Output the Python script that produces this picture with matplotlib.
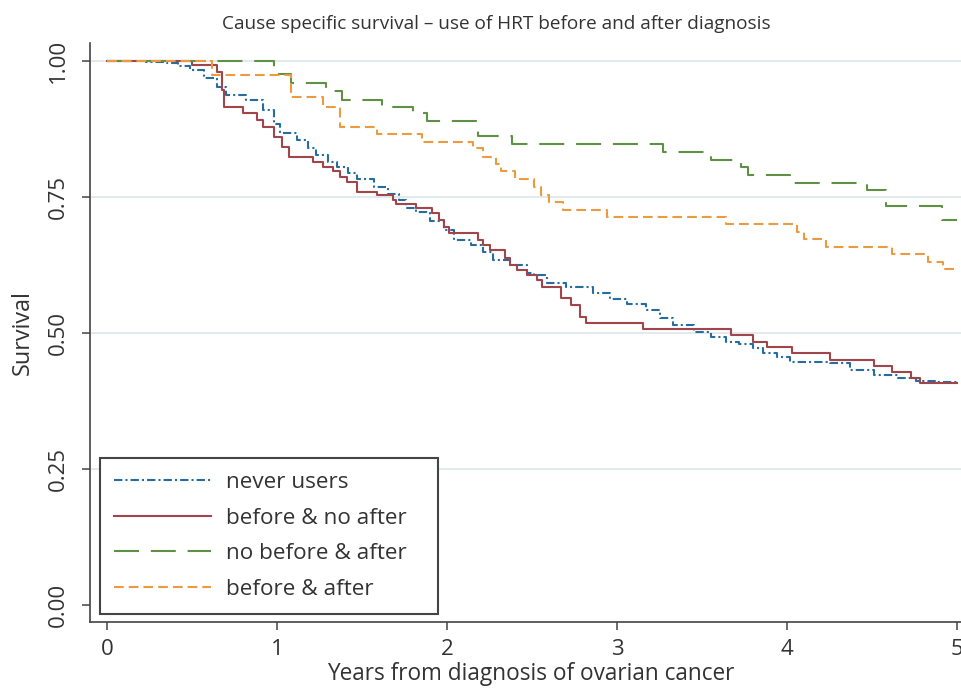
import matplotlib
matplotlib.use("Agg")
import matplotlib.pyplot as plt

plt.rcParams['font.family'] = ['Open Sans', 'DejaVu Sans']
plt.rcParams['lines.scale_dashes'] = False

title = "Cause specific survival – use of HRT before and after diagnosis"
xlabel = "Years from diagnosis of ovarian cancer"
ylabel = "Survival"
xticks = [0, 1, 2, 3, 4, 5]
yticks = [0.0, 0.25, 0.5, 0.75, 1.0]
ytick_labels = ["0.00", "0.25", "0.50", "0.75", "1.00"]
labels = ["never users", "before & no after", "no before & after", "before & after"]

never_t = [0, 0.23, 0.35, 0.42, 0.49, 0.57, 0.645, 0.70, 0.82, 0.92, 0.98, 1.02, 1.12, 1.18,
           1.23, 1.30, 1.35, 1.42, 1.47, 1.57, 1.65, 1.72, 1.76, 1.82, 1.90, 1.98, 2.04, 2.14,
           2.21, 2.27, 2.37, 2.47, 2.51, 2.59, 2.70, 2.86, 2.96, 3.06, 3.17, 3.25, 3.33, 3.45,
           3.55, 3.64, 3.72, 3.80, 3.86, 3.94, 4.02, 4.25, 4.37, 4.51, 4.65, 4.76, 4.88, 5.0]
never_s = [1.0, 0.998, 0.996, 0.99, 0.983, 0.969, 0.953, 0.9375, 0.928, 0.91, 0.885, 0.867, 0.855, 0.84,
           0.827, 0.815, 0.806, 0.795, 0.784, 0.769, 0.756, 0.744, 0.729, 0.723, 0.705, 0.689, 0.671, 0.662,
           0.649, 0.634, 0.625, 0.610, 0.607, 0.591, 0.584, 0.573, 0.563, 0.553, 0.542, 0.527, 0.515, 0.502,
           0.493, 0.484, 0.479, 0.472, 0.463, 0.455, 0.447, 0.444, 0.432, 0.423, 0.417, 0.412, 0.410, 0.408]

before_t = [0, 0.50, 0.645, 0.675, 0.69, 0.80, 0.88, 0.92, 0.98, 1.03, 1.07, 1.21, 1.27, 1.33,
            1.37, 1.41, 1.47, 1.59, 1.68, 1.70, 1.82, 1.91, 1.95, 1.98, 2.01, 2.18, 2.21, 2.25,
            2.34, 2.37, 2.41, 2.47, 2.53, 2.56, 2.67, 2.73, 2.78, 2.82, 3.15, 3.67, 3.80, 3.88,
            4.03, 4.25, 4.51, 4.62, 4.73, 4.78, 5.0]
before_s = [1.0, 0.993, 0.980, 0.947, 0.916, 0.904, 0.892, 0.879, 0.861, 0.842, 0.824, 0.815, 0.806, 0.797,
            0.787, 0.778, 0.760, 0.754, 0.744, 0.738, 0.729, 0.720, 0.708, 0.695, 0.683, 0.671, 0.662, 0.653,
            0.637, 0.625, 0.616, 0.607, 0.597, 0.585, 0.564, 0.551, 0.530, 0.518, 0.507, 0.496, 0.484, 0.474,
            0.463, 0.450, 0.439, 0.429, 0.418, 0.408, 0.408]

after_t = [0, 0.98, 1.08, 1.29, 1.38, 1.62, 1.80, 1.88, 2.18, 2.38, 3.27, 3.55, 3.73, 3.77,
           4.02, 4.47, 4.58, 4.91, 5.0]
after_s = [1.0, 0.977, 0.960, 0.944, 0.928, 0.916, 0.904, 0.89, 0.863, 0.847, 0.833, 0.818, 0.805, 0.79,
           0.776, 0.762, 0.733, 0.708, 0.708]

both_t = [0, 0.62, 1.08, 1.27, 1.37, 1.59, 1.85, 2.15, 2.21, 2.29, 2.32, 2.40, 2.51, 2.55,
          2.60, 2.68, 2.94, 3.64, 4.06, 4.10, 4.23, 4.62, 4.83, 4.92, 5.0]
both_s = [1.0, 0.975, 0.934, 0.916, 0.878, 0.865, 0.852, 0.84, 0.824, 0.811, 0.797, 0.783, 0.768, 0.754,
          0.740, 0.727, 0.714, 0.700, 0.686, 0.673, 0.659, 0.645, 0.631, 0.618, 0.618]

colors = ['#266c9e', '#a0454a', '#5e9045', '#eb9a40']
dashes = [(0, (6, 2.2, 1.5, 2.2)), '-', (0, (18, 8.5)), (0, (7, 3.6))]

W, H = 962, 688
fig = plt.figure(figsize=(W / 100, H / 100), dpi=100)
L, R, B, T = 90, 962, 622, 43
ax = fig.add_axes([L / W, 1 - B / H, (R - L) / W, (B - T) / H])

x0 = 107; xs = 170.0
y0 = 605; ys = 544.0
ax.set_xlim((L - x0) / xs, (R - x0) / xs)
ax.set_ylim((y0 - B) / ys, (y0 - T) / ys)

for yv in [0.25, 0.5, 0.75, 1.0]:
    ax.axhline(yv, color='#dde6eb', lw=1.2, zorder=0)

series = [(never_t, never_s), (before_t, before_s), (after_t, after_s), (both_t, both_s)]
for (t, s), c, ls, lab in zip(series, colors, dashes, labels):
    ax.plot(t, s, drawstyle='steps-post', color=c, linestyle=ls, lw=1.5, label=lab)

for sp in ['top', 'right']:
    ax.spines[sp].set_visible(False)
for sp in ['left', 'bottom']:
    ax.spines[sp].set_color('#444444')
    ax.spines[sp].set_linewidth(1.2)

ax.set_xticks(xticks)
ax.set_yticks(yticks)
ax.set_yticklabels(ytick_labels, rotation=90, va='center')
ax.tick_params(axis='both', length=6, width=1.1, color='#444444', labelsize=16, labelcolor='#333333')
ax.tick_params(axis='y', pad=9)
ax.tick_params(axis='x', pad=6)

ax.set_xlabel(xlabel, fontsize=16.3, color='#333333')
ax.xaxis.set_label_coords((531 - L) / (R - L), (B - 674) / (B - T))
ax.xaxis.label.set_va('center')
ax.set_ylabel(ylabel, fontsize=16.8, color='#333333')
ax.yaxis.set_label_coords((23 - L) / (R - L), 0.5)
ax.yaxis.label.set_va('center')

fig.text(496 / W, 1 - 24 / H, title, ha='center', va='center', fontsize=13.7, color='#333333')

leg = ax.legend(loc='upper left',
                bbox_to_anchor=((100 - L) / (R - L), (B - 458) / (B - T), (438 - 100) / (R - L), 0.0),
                mode='expand', borderaxespad=0, fontsize=16.2, handlelength=4.3, handletextpad=0.7,
                labelspacing=0.65, borderpad=0.62, fancybox=False, framealpha=1)
leg.get_frame().set_edgecolor('#444444')
leg.get_frame().set_linewidth(1.5)
for txt in leg.get_texts():
    txt.set_color('#333333')

fig.savefig('out.png', dpi=100)
